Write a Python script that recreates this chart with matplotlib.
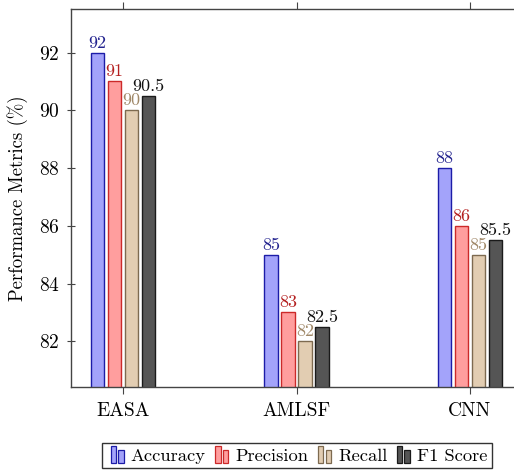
"""Grouped bar chart of performance metrics per model, pgfplots-style."""
import numpy as np
import matplotlib
matplotlib.use("Agg")
import matplotlib.pyplot as plt
from matplotlib.legend_handler import HandlerBase
from matplotlib.patches import Rectangle

plt.rcParams.update({"font.family": "cmr10", "mathtext.fontset": "cm",
                     "axes.formatter.use_mathtext": True, "font.size": 13.5})

models = ["EASA", "AMLSF", "CNN"]
metrics = ["Accuracy", "Precision", "Recall", "F1 Score"]
accuracy = [92, 85, 88]
precision = [91, 83, 86]
recall = [90, 82, 85]
f1_score = [90.5, 82.5, 85.5]
labels_acc = ["92", "85", "88"]
labels_prec = ["91", "83", "86"]
labels_rec = ["90", "82", "85"]
labels_f1 = ["90.5", "82.5", "85.5"]

fills = ["#a3a3fa", "#ff9e9e", "#e2cdb2", "#555555"]
edges = ["#1c1ca8", "#cc2a2a", "#7d6a50", "#1a1a1a"]
texts = ["#22228e", "#b42020", "#a08868", "#111111"]


class TwoBars(HandlerBase):
    """pgfplots ybar legend image: two little bars side by side."""
    def create_artists(self, legend, orig, xd, yd, w, h, fontsize, trans):
        fc, ec = orig.get_facecolor(), orig.get_edgecolor()
        bw = 0.3 * fontsize
        x0 = w / 2 - bw - 0.5
        a = Rectangle((x0 - xd, -yd - 0.15 * fontsize), bw, 0.95 * fontsize,
                      fc=fc, ec=ec, lw=0.9, transform=trans)
        b = Rectangle((x0 + bw + 1.5 - xd, -yd - 0.15 * fontsize), bw, 0.7 * fontsize,
                      fc=fc, ec=ec, lw=0.9, transform=trans)
        return [a, b]


fig = plt.figure(figsize=(5.14, 4.72), dpi=100)
ax = fig.add_axes([71 / 514, 85 / 472, 451 / 514, 378 / 472])

x = np.arange(len(models))
width, step = 0.08, 0.098
series = [(accuracy, labels_acc), (precision, labels_prec), (recall, labels_rec), (f1_score, labels_f1)]
handles = []
for i, (vals, labs) in enumerate(series):
    pos = x + (i - 1.5) * step
    bars = ax.bar(pos, vals, width, color=fills[i], edgecolor=edges[i], linewidth=1.0,
                  label=metrics[i], zorder=2)
    handles.append(bars[0])
    for p, v, t in zip(pos, vals, labs):
        ax.annotate(t, (p, v), xytext=(0, 1.5), textcoords="offset points",
                    ha="center", va="bottom", color=texts[i], fontsize=13, zorder=3)

ax.set_xlim(-0.30, 2.30)
ax.set_ylim(80.42, 93.51)
ax.set_xticks(x)
ax.set_xticklabels(models)
ax.set_yticks([82, 84, 86, 88, 90, 92])
ax.set_ylabel("Performance Metrics (%)", labelpad=8)
ax.tick_params(axis="x", direction="out", length=5, top=True, width=0.8, color="#444444",
               pad=6, labelsize=14)
ax.tick_params(axis="y", direction="inout", length=6, width=0.8, color="#444444",
               pad=5, labelsize=14)
for s in ax.spines.values():
    s.set_linewidth(1.0)
    s.set_color("#444444")

fig.legend(handles, metrics, handler_map={h: TwoBars() for h in handles},
           loc="upper center", bbox_to_anchor=(297 / 514, 1 - 443 / 472), ncol=4,
           frameon=True, fancybox=False, edgecolor="#333333", framealpha=1,
           handlelength=1.1, handletextpad=0.2, columnspacing=0.3,
           borderpad=0.25, borderaxespad=0, fontsize=13.3)

fig.savefig("out.png", dpi=100)
